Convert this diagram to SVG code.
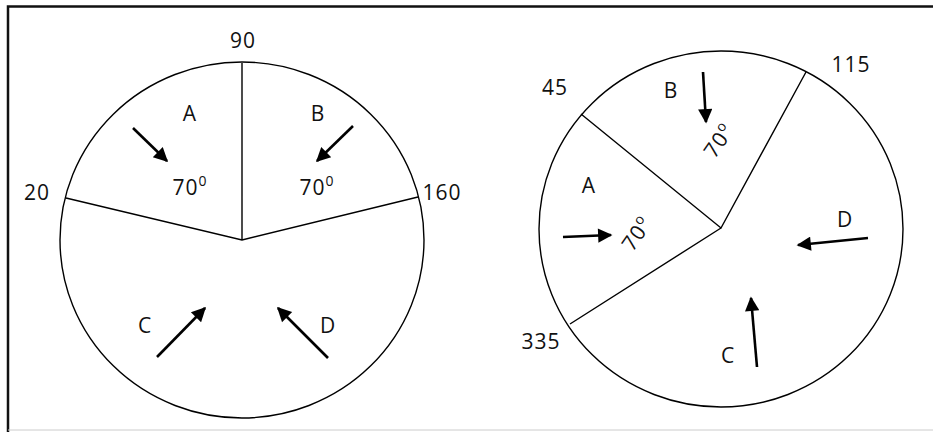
<svg xmlns="http://www.w3.org/2000/svg" width="933" height="432" viewBox="0 0 933 432">
<style>
.ln{stroke:#000;stroke-width:1.4;fill:none}
.ar{stroke:#000;stroke-width:2.6;fill:none}
.t{font-family:"Open Sans","Liberation Sans",sans-serif;font-size:21px;fill:#111;text-anchor:middle;letter-spacing:1px}
.sup{font-size:14px}
</style>
<defs>
<marker id="ah" viewBox="0 0 10 10" refX="9" refY="5" markerWidth="6.5" markerHeight="5.5" markerUnits="strokeWidth" orient="auto">
<path d="M0,0 L10,5 L0,10 z" fill="#000"/>
</marker>
</defs>
<rect x="0" y="0" width="933" height="432" fill="#fff"/>
<g id="frame">
<path d="M8,432 V6.5 H933" stroke="#111" stroke-width="2.5" fill="none"/>
<line x1="8" y1="430" x2="933" y2="430" stroke="#ccc" stroke-width="1"/>
</g>
<g id="pie-left">
<ellipse cx="242" cy="240" rx="182" ry="178" class="ln"/>
<path d="M242,63 V240 M66,198 L242,240 L418,197" class="ln"/>
</g>
<g id="pie-right">
<ellipse cx="721" cy="229" rx="182" ry="178" class="ln"/>
<path d="M581,114 L721,228 L806,72 M570,324 L721,228" class="ln"/>
</g>
<g id="connectors">
<line x1="133" y1="128" x2="167" y2="161" class="ar" marker-end="url(#ah)"/>
<line x1="353" y1="126" x2="317" y2="161" class="ar" marker-end="url(#ah)"/>
<line x1="157" y1="357" x2="205" y2="308" class="ar" marker-end="url(#ah)"/>
<line x1="328" y1="358" x2="278" y2="308" class="ar" marker-end="url(#ah)"/>
<line x1="563" y1="237" x2="611" y2="235" class="ar" marker-end="url(#ah)"/>
<line x1="703" y1="72" x2="706" y2="122" class="ar" marker-end="url(#ah)"/>
<line x1="868" y1="238" x2="798" y2="245" class="ar" marker-end="url(#ah)"/>
<line x1="757" y1="367" x2="751" y2="298" class="ar" marker-end="url(#ah)"/>
</g>
<g id="labels-left">
<text class="t" x="243" y="48">90</text>
<text class="t" x="37" y="200">20</text>
<text class="t" x="442" y="200">160</text>
<text class="t" x="190" y="121">A</text>
<text class="t" x="318" y="121">B</text>
<text class="t" x="145" y="333">C</text>
<text class="t" x="328" y="333">D</text>
<text class="t" x="190" y="195">70<tspan class="sup" dy="-9">0</tspan></text>
<text class="t" x="317" y="195">70<tspan class="sup" dy="-9">0</tspan></text>
</g>
<g id="labels-right">
<text class="t" x="555" y="95">45</text>
<text class="t" x="851" y="72">115</text>
<text class="t" x="541" y="349">335</text>
<text class="t" x="671" y="98">B</text>
<text class="t" x="589" y="193">A</text>
<text class="t" x="845" y="227">D</text>
<text class="t" x="728" y="363">C</text>
<text class="t" transform="translate(643,238) rotate(-55)">70<tspan class="sup" dy="-9">o</tspan></text>
<text class="t" transform="translate(725,145) rotate(-55)">70<tspan class="sup" dy="-9">o</tspan></text>
</g>
</svg>
